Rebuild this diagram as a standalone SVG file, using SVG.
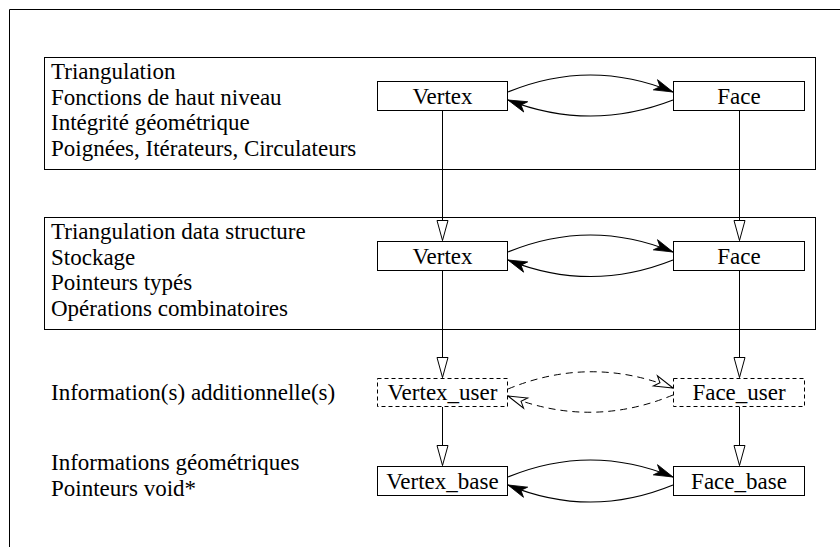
<svg xmlns="http://www.w3.org/2000/svg" width="840" height="547" viewBox="0 0 840 547" font-family="Liberation Serif, Times New Roman, serif" font-size="23">
<defs>
<style>
.t{font-family:"Liberation Serif","Times New Roman",serif;font-size:23px;fill:#000}
.c{text-anchor:middle}
.box{fill:#fff;stroke:#000;stroke-width:1}
.dbox{fill:#fff;stroke:#000;stroke-width:1;stroke-dasharray:4 3}
.frame{fill:none;stroke:#000;stroke-width:1}
.v{fill:none;stroke:#000;stroke-width:1;marker-end:url(#tri)}
.cv{fill:none;stroke:#000;stroke-width:1.2;marker-end:url(#barb)}
.dcv{fill:none;stroke:#000;stroke-width:1;stroke-dasharray:7 5;marker-end:url(#obarb)}
</style>
<marker id="tri" viewBox="-21 -7 22 14" refX="0" refY="0" markerWidth="22" markerHeight="14" markerUnits="userSpaceOnUse" orient="auto">
<path d="M0,0 L-20,-5.5 L-20,5.5 Z" fill="#fff" stroke="#000" stroke-width="1"/>
</marker>
<marker id="barb" viewBox="-21 -7 22 14" refX="0" refY="0" markerWidth="22" markerHeight="14" markerUnits="userSpaceOnUse" orient="auto">
<path d="M0,0 L-19,-5.5 L-14,0 L-19,5.5 Z" fill="#000" stroke="#000" stroke-width="0.8"/>
</marker>
<marker id="obarb" viewBox="-21 -7 22 14" refX="0" refY="0" markerWidth="22" markerHeight="14" markerUnits="userSpaceOnUse" orient="auto">
<path d="M0,0 L-19,-5.5 L-14,0 L-19,5.5 Z" fill="#fff" stroke="#000" stroke-width="1"/>
</marker>
</defs>
<path class="frame" d="M9.5,547 V9.5 H840"/>
<g id="layer-triangulation">
<rect class="box" x="44.5" y="57.5" width="771" height="112"/>
<text class="t" style="font-family:'Liberation Serif',serif" x="51" y="79">Triangulation</text>
<text class="t" style="font-family:'Liberation Serif',serif" x="51" y="104.5">Fonctions de haut niveau</text>
<text class="t" style="font-family:'Liberation Serif',serif" x="51" y="130">Intégrité géométrique</text>
<text class="t" style="font-family:'Liberation Serif',serif" x="51" y="155.5">Poignées, Itérateurs, Circulateurs</text>
</g>
<g id="layer-tds">
<rect class="box" x="44.5" y="217.5" width="771" height="112"/>
<text class="t" style="font-family:'Liberation Serif',serif" x="51" y="239">Triangulation data structure</text>
<text class="t" style="font-family:'Liberation Serif',serif" x="51" y="264.5">Stockage</text>
<text class="t" style="font-family:'Liberation Serif',serif" x="51" y="290">Pointeurs typés</text>
<text class="t" style="font-family:'Liberation Serif',serif" x="51" y="315.5">Opérations combinatoires</text>
</g>
<g id="label-user">
<text class="t" style="font-family:'Liberation Serif',serif" x="51" y="400">Information(s) additionnelle(s)</text>
</g>
<g id="label-base">
<text class="t" style="font-family:'Liberation Serif',serif" x="51" y="470">Informations géométriques</text>
<text class="t" style="font-family:'Liberation Serif',serif" x="51" y="496">Pointeurs void*</text>
</g>
<g id="connectors">
<path class="v" d="M442.5,111 V240.5"/>
<path class="v" d="M739.5,111 V240.5"/>
<path class="v" d="M442.5,271 V377.5"/>
<path class="v" d="M739.5,271 V377.5"/>
<path class="v" d="M442.5,407 V465.5"/>
<path class="v" d="M739.5,407 V465.5"/>
<path class="cv" d="M508,92 Q590.5,58 673,92"/>
<path class="cv" d="M673,100 Q590.5,132 508,100"/>
<path class="cv" d="M508,252 Q590.5,218 673,252"/>
<path class="cv" d="M673,260 Q590.5,293 508,260"/>
<path class="dcv" d="M508,389 Q590.5,355 673,388"/>
<path class="dcv" d="M673,395 Q590.5,429 508,396"/>
<path class="cv" d="M508,477 Q590.5,443 673,477"/>
<path class="cv" d="M673,485 Q590.5,519 508,485"/>
</g>
<g id="vertex-top">
<rect class="box" x="377.5" y="81.5" width="130" height="29"/>
<text class="t c" style="font-family:'Liberation Serif',serif" x="442.5" y="104">Vertex</text>
</g>
<g id="face-top">
<rect class="box" x="673.5" y="81.5" width="131" height="29"/>
<text class="t c" style="font-family:'Liberation Serif',serif" x="739" y="104">Face</text>
</g>
<g id="vertex-tds">
<rect class="box" x="377.5" y="241.5" width="130" height="29"/>
<text class="t c" style="font-family:'Liberation Serif',serif" x="442.5" y="264">Vertex</text>
</g>
<g id="face-tds">
<rect class="box" x="673.5" y="241.5" width="131" height="29"/>
<text class="t c" style="font-family:'Liberation Serif',serif" x="739" y="264">Face</text>
</g>
<g id="vertex-user">
<rect class="dbox" x="377.5" y="378.5" width="130" height="28"/>
<text class="t c" style="font-family:'Liberation Serif',serif" x="442.5" y="400">Vertex_user</text>
</g>
<g id="face-user">
<rect class="dbox" x="673.5" y="378.5" width="131" height="28"/>
<text class="t c" style="font-family:'Liberation Serif',serif" x="739" y="400">Face_user</text>
</g>
<g id="vertex-base">
<rect class="box" x="377.5" y="466.5" width="130" height="29"/>
<text class="t c" style="font-family:'Liberation Serif',serif" x="442.5" y="489">Vertex_base</text>
</g>
<g id="face-base">
<rect class="box" x="673.5" y="466.5" width="131" height="29"/>
<text class="t c" style="font-family:'Liberation Serif',serif" x="739" y="489">Face_base</text>
</g>
</svg>
